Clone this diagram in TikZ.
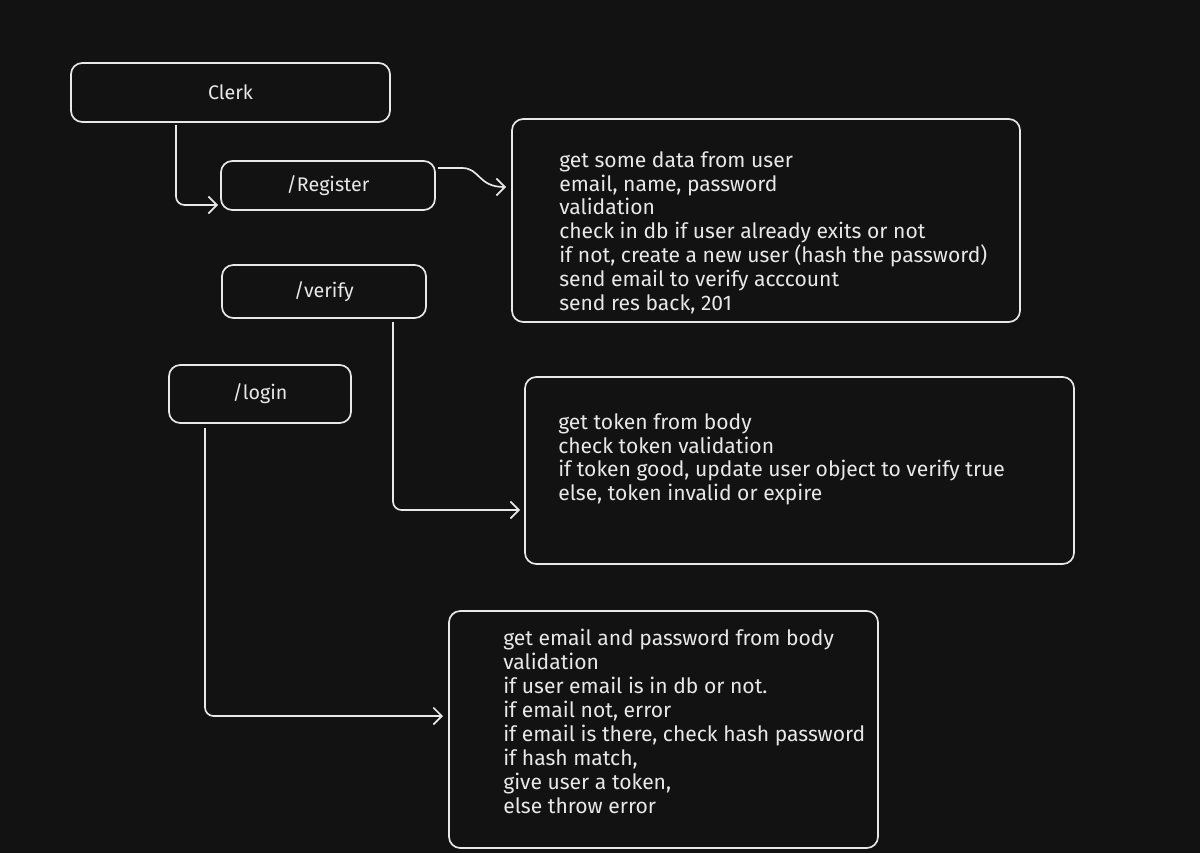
\documentclass[tikz,border=0pt]{standalone}
\usepackage{fontspec}
\setmainfont{Fira Sans}
\usetikzlibrary{arrows.meta}
\definecolor{bg}{HTML}{121212}
\definecolor{ink}{HTML}{E8E8E8}
\tikzset{
  box/.style={draw=ink, line width=1.2pt, rounded corners=8pt, text=ink},
  label/.style={font=\fontsize{14}{16}\selectfont},
  note/.style={text=ink, align=left, anchor=north west, inner sep=0pt,
    font=\fontsize{15}{17}\selectfont},
  link/.style={draw=ink, line width=1.2pt, -{Straight Barb[length=6pt,width=12pt]}}
}
\begin{document}
\begin{tikzpicture}[x=0.025cm,y=-0.025cm]
  \fill[bg] (0,0) rectangle (1200,853);
  \draw[box] (71,63) rectangle (390,122) node[midway,label] (clerk) {Clerk};
  \draw[box] (221,161) rectangle (435,210) node[midway,label] (register) {/Register};
  \draw[box] (222,265) rectangle (426,318) node[midway,label] (verify) {/verify};
  \draw[box] (169,365) rectangle (351,423) node[midway,label] (login) {/login};
  \draw[box] (512,119) rectangle (1020,322);
  \draw[box] (525,377) rectangle (1074,564);
  \draw[box] (449,611) rectangle (878,848);
  \node[note] (regnote) at (559,151) {get some data from user\\ email, name, password\\ validation\\
    check in db if user already exits or not\\ if not, create a new user (hash the password)\\
    send email to verify acccount\\ send res back, 201};
  \node[note] (vernote) at (558,413) {get token from body\\ check token validation\\
    if token good, update user object to verify true\\ else, token invalid or expire};
  \node[note] (lognote) at (503,629) {get email and password from body\\ validation\\
    if user email is in db or not.\\ if email not, error\\ if email is there, check hash password\\
    if hash match,\\ give user a token,\\ else throw error};
  \coordinate (c1) at (176,125);
  \coordinate (c2) at (218,205);
  \draw[link, rounded corners=6pt] (c1) |- (c2);
  \coordinate (r1) at (438,168);
  \coordinate (r2) at (506,187);
  \draw[link] (r1) -- (462,168) .. controls (480,168) and (478,187) .. (r2);
  \coordinate (v1) at (393,322);
  \coordinate (v2) at (520,510);
  \draw[link, rounded corners=6pt] (v1) |- (v2);
  \coordinate (l1) at (205,428);
  \coordinate (l2) at (443,716);
  \draw[link, rounded corners=6pt] (l1) |- (l2);
\end{tikzpicture}
\end{document}
